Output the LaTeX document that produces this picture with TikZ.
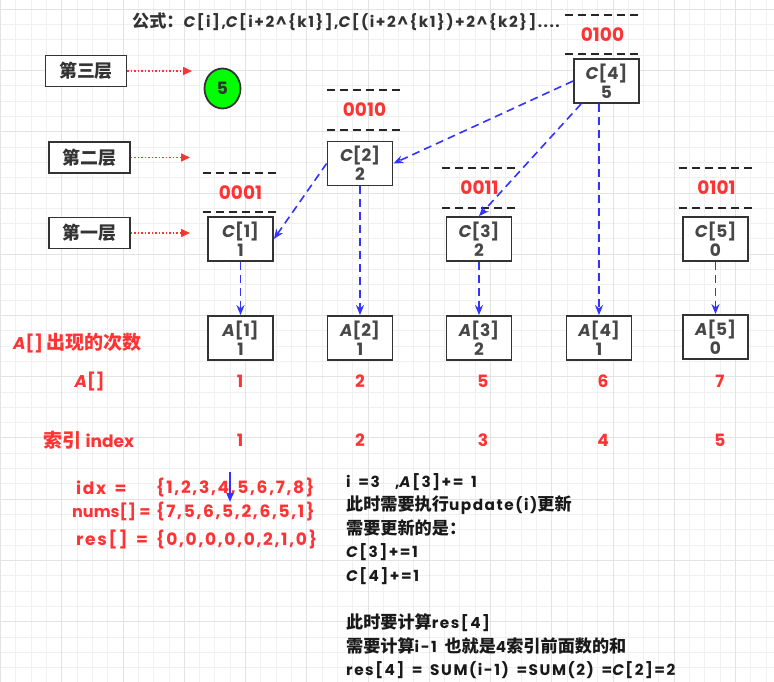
\documentclass[tikz,border=0pt]{standalone}
\usepackage{fontspec}
\setmainfont{Poppins}
\newfontfamily\wide{Poppins}[LetterSpace=10, WordSpace=1.6]
\newfontfamily\cjk{Noto Sans CJK SC}[Scale=1.12]
\usetikzlibrary{arrows.meta, positioning, shapes.geometric}

\definecolor{hired}{HTML}{FF3333}
\definecolor{linkblue}{HTML}{3333FF}
\definecolor{ink}{HTML}{333333}
\definecolor{ballgreen}{HTML}{00FF00}
\definecolor{gridminor}{HTML}{F0F0F0}
\definecolor{gridmajor}{HTML}{E3E3E3}

\tikzset{
  treebox/.style={draw=ink, line width=1.8pt, fill=white, minimum width=65pt, minimum height=44pt,
    align=center, inner sep=0pt, font=\bfseries\fontsize{17}{19}\selectfont, text=ink!90},
  layerbox/.style={draw=ink, line width=1.8pt, fill=white, minimum width=81pt, minimum height=31pt,
    inner sep=0pt, font=\cjk\bfseries\fontsize{16}{18}\selectfont, text=ink},
  bits/.style={minimum width=75pt, minimum height=39pt, inner sep=0pt, text=hired,
    font=\bfseries\fontsize{18.5}{20}\selectfont},
  bitdash/.style={line width=1.8pt, dash pattern=on 8pt off 5pt, black!85},
  uplink/.style={linkblue, line width=1.6pt, dash pattern=on 8pt off 5pt, -{Stealth[length=10pt,width=8pt]}},
  layerlink/.style={hired, line width=1.6pt, dash pattern=on 1.5pt off 2pt, -{Triangle[length=9pt,width=8pt]}},
  redlbl/.style={text=hired, font=\bfseries\fontsize{17}{19}\selectfont, inner sep=0pt},
  redrow/.style={redlbl, font=\wide\bfseries\fontsize{17}{19}\selectfont, anchor=west},
}

\begin{document}
\begin{tikzpicture}[x=1pt, y=-1pt]
\useasboundingbox (0,0) rectangle (774,682);
\fill[white] (0,0) rectangle (774,682);

% background grid
\foreach \k in {0,...,50}
  \draw[gridminor, line width=1pt] ({0.6+15.31*\k},0) -- ({0.6+15.31*\k},682);
\foreach \k in {0,...,44}
  \draw[gridminor, line width=1pt] (0,{9.3+15.31*\k}) -- (774,{9.3+15.31*\k});
\foreach \k in {0,...,12}
  \draw[gridmajor, line width=1pt] ({0.6+61.24*\k},0) -- ({0.6+61.24*\k},682);
\foreach \k in {0,...,11}
  \draw[gridmajor, line width=1pt] (0,{9.3+61.24*\k}) -- (774,{9.3+61.24*\k});

% formula on top
\node[anchor=west, inner sep=0pt, text=ink, font=\wide\bfseries\fontsize{15.3}{18}\selectfont] (formula) at (132,22)
  {{\cjk 公式：}\textit{C}[i],\textit{C}[i+2\textasciicircum\{k1\}],\textit{C}[(i+2\textasciicircum\{k1\})+2\textasciicircum\{k2\}]....};

% layer labels
\node[layerbox] (lay3) at (86,71) {第三层};
\node[layerbox] (lay2) at (89.5,157.5) {第二层};
\node[layerbox] (lay1) at (89.5,233) {第一层};
\coordinate (lay3end) at (192,71);
\coordinate (lay2end) at (190,157.5);
\coordinate (lay1end) at (190,233);
\draw[layerlink] (lay3) -- (lay3end);
\draw[layerlink] (lay2) -- (lay2end);
\draw[layerlink] (lay1) -- (lay1end);

\node[ellipse, draw=ink, line width=1.8pt, fill=ballgreen, minimum width=36pt, minimum height=40pt,
  inner sep=0pt, text=ink, font=\bfseries\fontsize{17}{18}\selectfont] (ball) at (222.5,88.5) {5};

% tree array C
\node[treebox] (c1) at (240.5,239) {\textit{C}[1]\\1};
\node[treebox] (c2) at (360,163.5) {\textit{C}[2]\\2};
\node[treebox] (c3) at (479,239) {\textit{C}[3]\\2};
\node[treebox] (c4) at (606.5,81) {\textit{C}[4]\\5};
\node[treebox] (c5) at (715.5,239) {\textit{C}[5]\\0};

% binary of the index
\node[bits] (b1) at (240.5,192.5) {0001};
\node[bits] (b2) at (364.5,110) {0010};
\node[bits] (b3) at (479.5,188) {0011};
\node[bits] (b4) at (602.5,34.5) {0100};
\node[bits] (b5) at (716.5,188) {0101};
\foreach \b in {b1,b2,b3,b4,b5}
  \draw[bitdash] (\b.north west) -- (\b.north east) (\b.south west) -- (\b.south east);

% original array A
\node[treebox] (a1) at (240.5,338) {\textit{A}[1]\\1};
\node[treebox] (a2) at (360,338) {\textit{A}[2]\\1};
\node[treebox] (a3) at (479,338) {\textit{A}[3]\\2};
\node[treebox] (a4) at (599,338) {\textit{A}[4]\\1};
\node[treebox] (a5) at (715.5,337) {\textit{A}[5]\\0};

\draw[uplink] (c1) -- (a1);
\draw[uplink] (c2) -- (a2);
\draw[uplink] (c3) -- (a3);
\draw[uplink] (c5) -- (a5);
\draw[uplink] (c4.south -| a4.north) -- (a4.north);
\draw[uplink] (c4.west) -- (c2.east);
\draw[uplink] ([xshift=8pt]c4.south west) -- (c3.north);
\draw[uplink] (c2.west) -- (c1.east);

% rows under the boxes
\node[redlbl, anchor=west] (cntlbl) at (13,343) {\textit{A}[] {\cjk 出现的次数}};
\node[redlbl] (arrlbl) at (89.5,382) {\textit{A}[]};
\node[redlbl] (idxlbl) at (89,440) {{\cjk 索引} index};
\foreach \x/\v/\i [count=\n] in {240/1/1, 360/2/2, 483/5/3, 603/6/4, 720/7/5} {
  \node[redlbl] (val\n) at (\x,381) {\v};
  \node[redlbl] (idx\n) at (\x,440) {\i};
}

% example input
\node[redrow] (idxeq) at (76,488) {idx =};
\node[redrow] (idxset) at (156,488) {\{1,2,3,4,5,6,7,8\}};
\node[redlbl, anchor=west, font=\bfseries\fontsize{16}{19}\selectfont] (numseq) at (72,512) {nums[] =};
\node[redrow] (numsset) at (156,512) {\{7,5,6,5,2,6,5,1\}};
\node[redrow] (reseq) at (76,540) {res[] =};
\node[redrow] (resset) at (156,540) {\{0,0,0,0,0,2,1,0\}};
\coordinate (ptrtop) at (230,472);
\coordinate (ptrtip) at (230,502);
\draw[linkblue, line width=1.6pt, -{Triangle[length=9pt,width=7pt]}] (ptrtop) -- (ptrtip);

% notes
\node[anchor=north west, align=left, inner sep=0pt, text=black!90,
  font=\wide\bfseries\fontsize{15.3}{23.6}\selectfont] (note) at (346,473)
  {i =3 \ ,\textit{A}[3]+= 1\\
   {\cjk 此时需要执行}update(i){\cjk 更新}\\
   {\cjk 需要更新的是：}\\
   \textit{C}[3]+=1\\
   \textit{C}[4]+=1\\
   \mbox{}\\
   {\cjk 此时要计算}res[4]\\
   {\cjk 需要计算}i-1 {\cjk 也就是}4{\cjk 索引前面数的和}\\
   res[4] = SUM(i-1) =SUM(2) =\textit{C}[2]=2};
\end{tikzpicture}
\end{document}
